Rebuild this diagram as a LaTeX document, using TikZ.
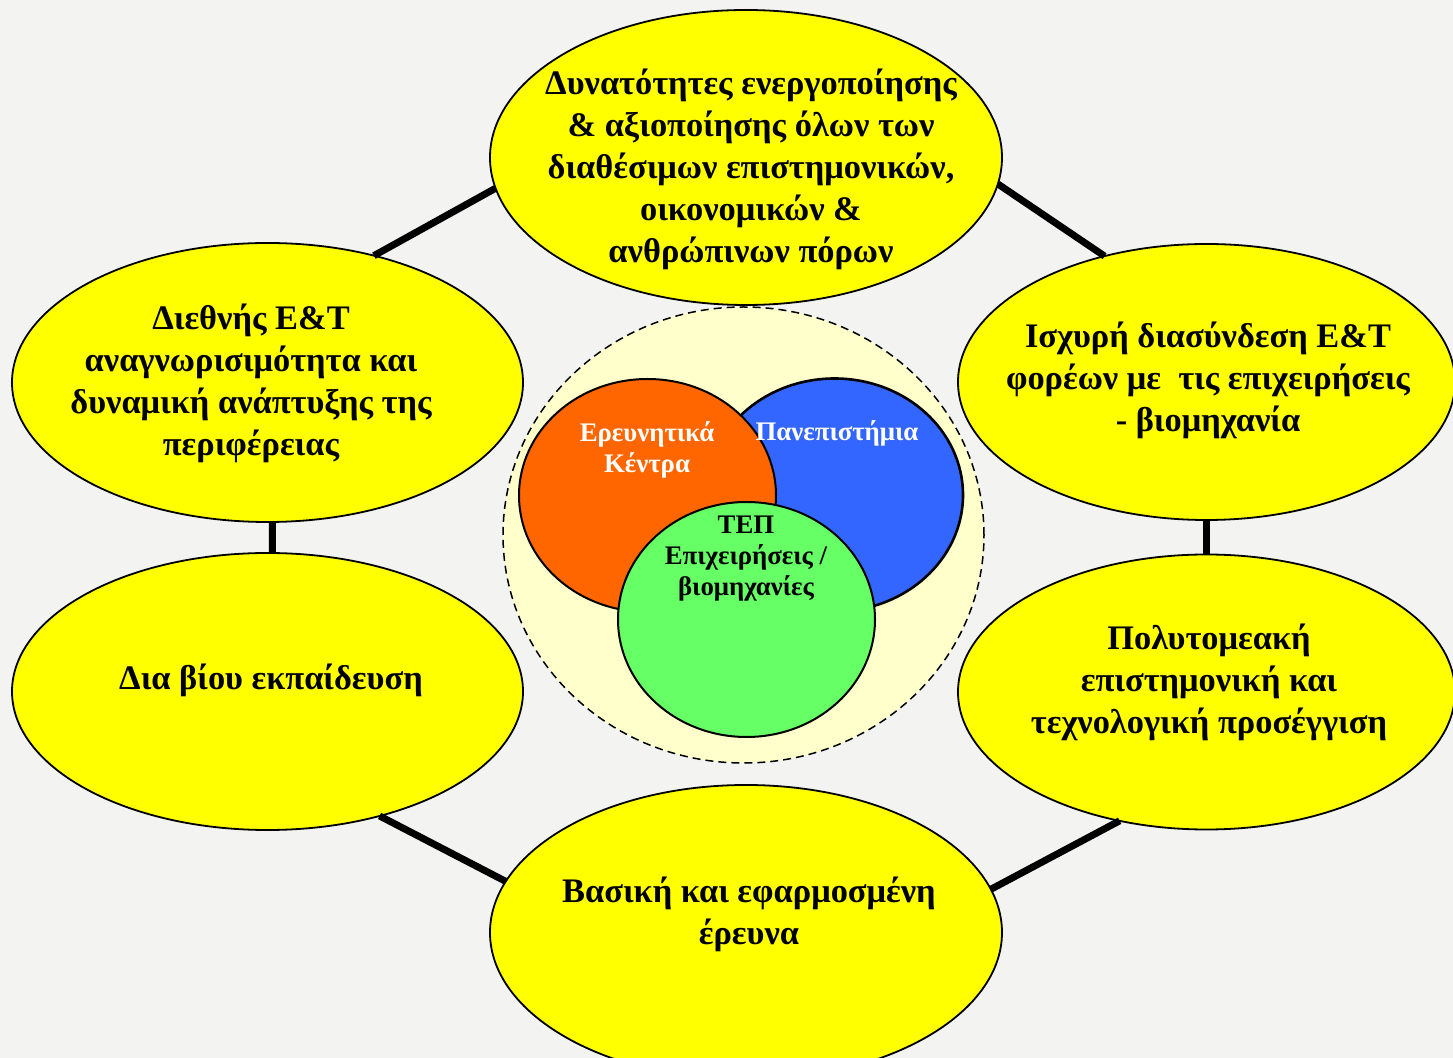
\documentclass[tikz,border=0pt]{standalone}
\usepackage{fontspec}
\setmainfont{Liberation Serif}
\usetikzlibrary{shapes.geometric}
\definecolor{bgc}{RGB}{243,243,242}
\definecolor{yellowc}{RGB}{255,255,0}
\definecolor{palec}{RGB}{255,255,204}
\definecolor{orangec}{RGB}{255,102,0}
\definecolor{bluec}{RGB}{51,102,255}
\definecolor{greenc}{RGB}{102,255,102}
\begin{document}
\begin{tikzpicture}[x=0.5pt,y=-0.5pt,
  bubble/.style={ellipse, draw=black, line width=0.9pt, fill=yellowc, inner sep=0pt, outer sep=0pt},
  btext/.style={align=center, font=\fontsize{17.2}{21}\selectfont\bfseries, text=black, inner sep=0pt},
  vtext/.style={align=center, font=\fontsize{13.4}{15.5}\selectfont\bfseries, inner sep=0pt},
  link/.style={line width=3.5pt, draw=black},
  venn/.style={ellipse, draw=black, line width=1pt, inner sep=0pt, outer sep=0pt, minimum width=128.5pt, minimum height=116.5pt}]
\fill[bgc] (0,0) rectangle (1453,1058);
\useasboundingbox (0,0) rectangle (1453,1058);
\clip (0,0) rectangle (1453,1058);

% outer bubbles
\node[bubble, minimum width=256pt, minimum height=147.5pt] (top) at (746,157.5) {};
\node[bubble, minimum width=255.5pt, minimum height=139.5pt] (ul) at (267.5,382.5) {};
\node[bubble, minimum width=248.5pt, minimum height=138pt] (ur) at (1206.5,382) {};
\node[bubble, minimum width=255.5pt, minimum height=138.5pt] (ll) at (267.5,691.5) {};
\node[bubble, minimum width=248.5pt, minimum height=137.5pt] (lr) at (1206.5,692) {};
\node[bubble, minimum width=256pt, minimum height=147.5pt] (bot) at (746,932.5) {};

% connectors
\draw[link] (top.187.5) -- (ul.50.8);
\draw[link] (top.-6.2) -- (ur.129.3);
\draw[link] (ul.-88.8) -- (ll.88.8);
\draw[link] (ur.-90.8) -- (lr.90.8);
\draw[link] (ll.-48.4) -- (bot.168.5);
\draw[link] (bot.10.2) -- (lr.-124.2);

% central group
\node[ellipse, draw=black, dashed, dash pattern=on 4pt off 2.5pt, line width=0.75pt, fill=palec,
      inner sep=0pt, minimum width=240.5pt, minimum height=228pt] (pale) at (743.5,535) {};
\node[venn, fill=bluec, line width=1.3pt] (uni) at (834.5,495) {};
\node[venn, fill=orangec] (erc) at (647.5,495.5) {};
\node[venn, fill=greenc, minimum height=117.5pt] (tep) at (746.5,619.5) {};

% texts
\node[btext] (ttop) at (751,169) {Δυνατότητες ενεργοποίησης\\ \& αξιοποίησης όλων των\\ διαθέσιμων επιστημονικών,\\ οικονομικών \&\\ ανθρώπινων πόρων};
\node[btext] (tul) at (251,383) {Διεθνής Ε\&Τ\\ αναγνωρισιμότητα και\\ δυναμική ανάπτυξης της\\ περιφέρειας};
\node[btext] (tur) at (1208,380) {Ισχυρή διασύνδεση Ε\&Τ\\ φορέων με\ \ τις επιχειρήσεις\\ - βιομηχανία};
\node[btext] (tll) at (271,680) {Δια βίου εκπαίδευση};
\node[btext] (tlr) at (1209,682) {Πολυτομεακή\\ επιστημονική και\\ τεχνολογική προσέγγιση};
\node[btext] (tbot) at (749,914) {Βασική και εφαρμοσμένη\\ έρευνα};

\node[vtext, text=white] (terc) at (647,449.5) {Ερευνητικά\\ Κέντρα};
\node[vtext, text=white] (tuni) at (837,433) {Πανεπιστήμια};
\node[vtext, text=black] (ttep) at (746,559) {ΤΕΠ\\ Επιχειρήσεις /\\ βιομηχανίες};
\end{tikzpicture}
\end{document}
